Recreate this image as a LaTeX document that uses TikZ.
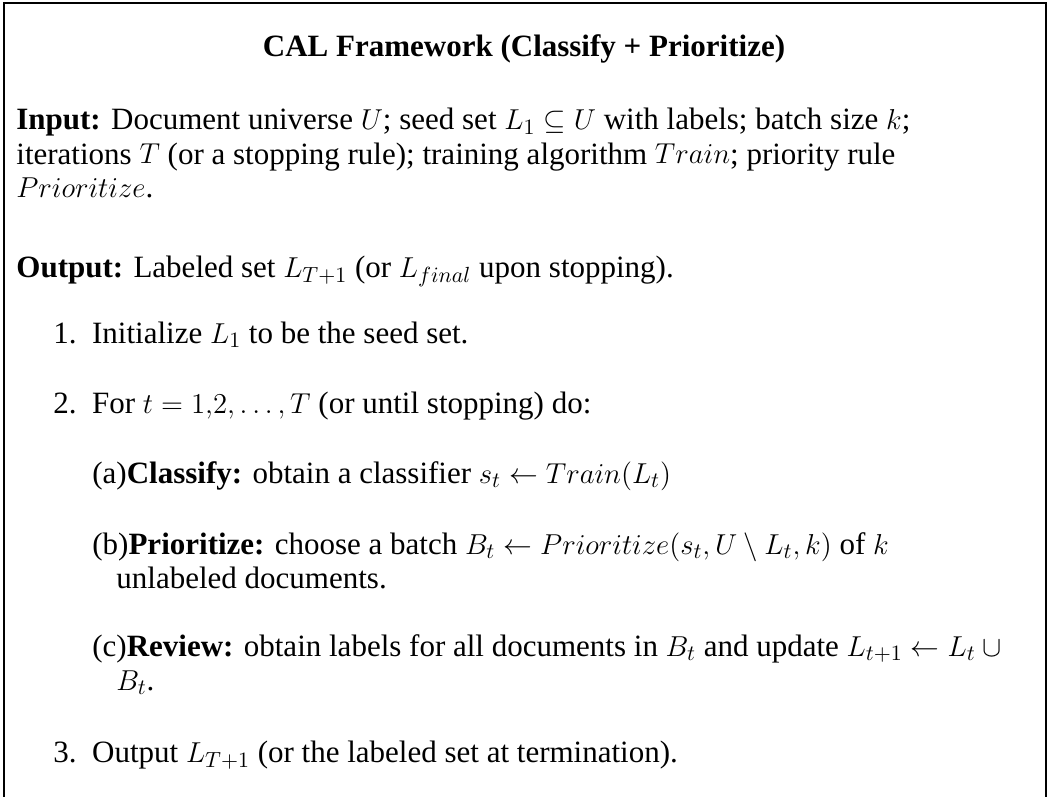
\documentclass[tikz,border=0pt]{standalone}
\usepackage{amsmath}
\usepackage{amssymb}
\usepackage{fontspec}
\setmainfont{Liberation Serif}

\begin{document}
\begin{tikzpicture}[x=0.5pt,y=-0.5pt]
  \tikzset{txt/.style={anchor=base west, inner sep=0pt, align=left, font=\fontsize{15.5}{17}\selectfont} }
  \tikzset{heading/.style={anchor=base, inner sep=0pt, font=\fontsize{15.5}{17}\selectfont\bfseries} }
  \tikzset{frame/.style={line width=1pt} }

  \useasboundingbox (0,0) rectangle (1049,797);

  % frame, open at the bottom
  \coordinate (bl) at (4,797);
  \coordinate (tl) at (4,3);
  \coordinate (tr) at (1046,3);
  \coordinate (br) at (1046,797);
  \draw[frame] (bl) -- (tl) -- (tr) -- (br);

  \node[heading] (title) at (524,57) {CAL Framework (Classify + Prioritize)};

  % multi-line nodes sit on the baseline of their last line
  \node[txt] (input) at (16,198) {\textbf{Input:} Document universe $U$; seed set $L_1 \subseteq U$ with labels; batch size $k$;\\
    iterations $T$ (or a stopping rule); training algorithm $Train$; priority rule\\
    $Prioritize$.};
  \node[txt] (output) at (16,277) {\textbf{Output:} Labeled set $L_{T+1}$ (or $L_{final}$ upon stopping).};

  \node[txt] (step1) at (53,343) {1.\ \ Initialize $L_1$ to be the seed set.};
  \node[txt] (step2) at (53,413) {2.\ \ For $t = 1{,}2, \ldots, T$ (or until stopping) do:};

  \node[txt] (stepa) at (92,483) {(a)\textbf{Classify:} obtain a classifier $s_t \leftarrow Train(L_t)$};
  \node[txt] (stepb) at (92,588) {(b)\textbf{Prioritize:} choose a batch $B_t \leftarrow Prioritize(s_t, U \setminus L_t, k)$ of $k$\\
    \hspace*{12pt}unlabeled documents.};
  \node[txt] (stepc) at (92,690) {(c)\textbf{Review:} obtain labels for all documents in $B_t$ and update $L_{t+1} \leftarrow L_t \cup{}$\\
    \hspace*{12pt}$B_t$.};

  \node[txt] (step3) at (53,762) {3.\ \ Output $L_{T+1}$ (or the labeled set at termination).};
\end{tikzpicture}
\end{document}
